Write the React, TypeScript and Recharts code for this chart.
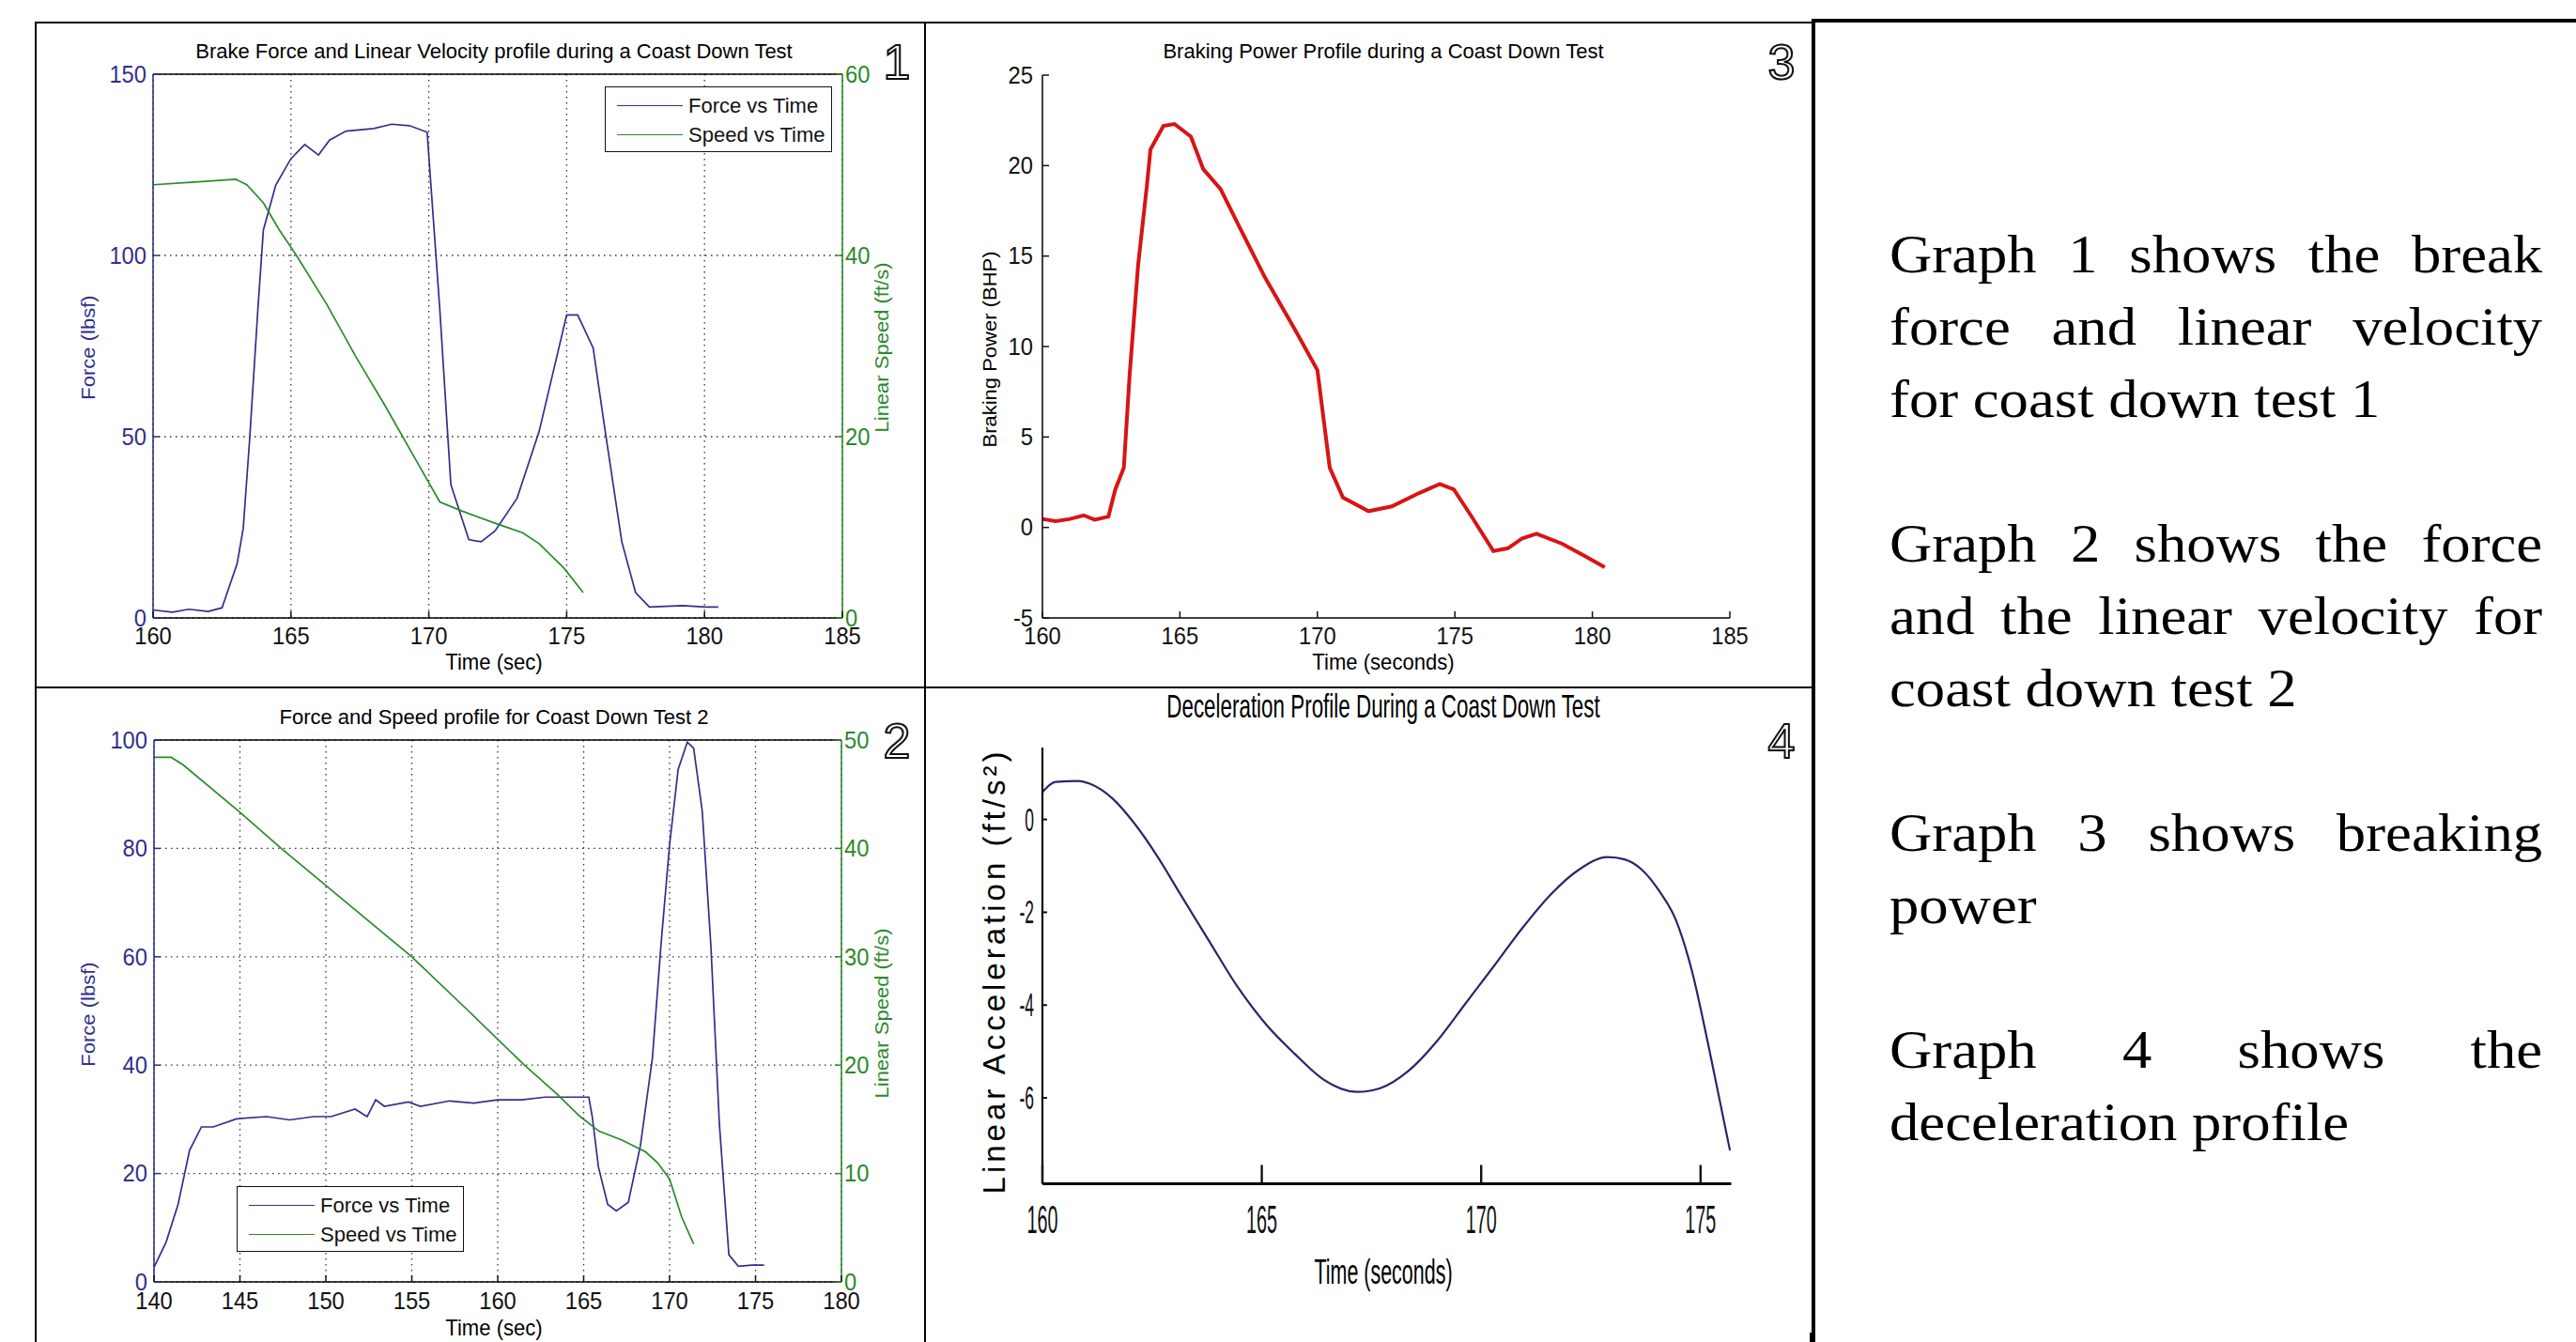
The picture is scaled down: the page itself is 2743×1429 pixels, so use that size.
import React from "react";
import { CartesianGrid, Legend, Line, LineChart, ReferenceLine, XAxis, YAxis } from "recharts";

// ---- graph 1: coast down test 1 ----
const t1Force = [160, 160.7, 161.3, 162, 162.5, 163.05, 163.27, 163.5, 163.8, 164.0, 164.45, 165, 165.5, 166.0, 166.4, 167.0, 168.0, 168.65, 169.3, 169.94, 170.4, 170.8, 171.45, 171.9, 172.4, 173.2, 174.0, 175.0, 175.4, 175.96, 176.4, 177.0, 177.5, 178.0, 179.2, 180.05, 180.5];
const force1 = [2.2, 1.6, 2.4, 1.8, 2.8, 15, 24.7, 49, 85, 107, 119.4, 126.7, 130.6, 127.7, 131.8, 134.3, 135, 136.2, 135.8, 134, 85, 36.8, 21.6, 21, 24, 33, 51.4, 83.6, 83.6, 74.5, 51.4, 21, 7, 3, 3.4, 3, 3];
const t1Speed = [160, 161.5, 163, 163.4, 164.0, 164.56, 165.2, 166.3, 167.36, 168.4, 169.5, 170.4, 171.2, 172.5, 173.4, 174.0, 174.9, 175.6];
const speed1 = [47.8, 48.1, 48.4, 47.8, 45.8, 42.9, 40, 34.6, 28.8, 23.5, 17.6, 12.8, 11.8, 10.35, 9.4, 8.2, 5.5, 2.8];
const x1Ticks = [160, 165, 170, 175, 180, 185];
const f1Ticks = [0, 50, 100, 150];
const s1Ticks = [0, 20, 40, 60];

// ---- graph 2: coast down test 2 ----
const t2Force = [140, 140.7, 141.4, 142.07, 142.76, 143.45, 144.8, 146.55, 147.9, 149.3, 150.3, 151.7, 152.4, 152.9, 153.4, 154.8, 155.5, 157.2, 158.6, 160, 161.4, 162.76, 164.1, 165.3, 165.5, 165.86, 166.4, 166.9, 167.6, 168.3, 169, 169.5, 170, 170.5, 171.03, 171.4, 171.9, 172.4, 172.9, 173.45, 174, 174.8, 175.5];
const force2 = [2.7, 7.3, 14.3, 24.3, 28.6, 28.6, 30.1, 30.5, 29.9, 30.5, 30.5, 31.9, 30.5, 33.6, 32.4, 33.2, 32.4, 33.4, 33, 33.6, 33.6, 34.1, 34.1, 34.1, 30.5, 21.2, 14.3, 13.1, 14.7, 25.1, 41.3, 62.2, 80.7, 94.6, 99.6, 98.5, 86.9, 62.2, 29, 5, 2.9, 3.1, 3.1];
const t2Speed = [140, 141, 141.7, 144.8, 147.4, 151.2, 155, 158.3, 161.55, 163.4, 164.8, 165.9, 167.2, 168.6, 169.3, 170, 170.7, 171.4];
const speed2 = [48.4, 48.4, 47.7, 43.6, 40, 35, 30, 25, 20, 17.4, 15.25, 13.9, 13.1, 12, 11, 9.5, 6, 3.5];
const x2Ticks = [140, 145, 150, 155, 160, 165, 170, 175, 180];
const f2Ticks = [0, 20, 40, 60, 80, 100];
const s2Ticks = [0, 10, 20, 30, 40, 50];

// ---- graph 3: braking power ----
const t3 = [160, 160.48, 161, 161.5, 161.9, 162.4, 162.65, 162.96, 163.17, 163.48, 163.8, 163.93, 164.4, 164.8, 165.4, 165.85, 166.48, 167.3, 168.1, 169.2, 170, 170.45, 170.93, 171.86, 172.7, 173.7, 174.45, 174.96, 175.58, 176.4, 176.93, 177.45, 177.97, 178.9, 179.72, 180.45];
const power3 = [0.47, 0.35, 0.47, 0.67, 0.43, 0.6, 2.1, 3.3, 8.4, 14.5, 18.9, 20.9, 22.2, 22.3, 21.6, 19.8, 18.7, 16.2, 13.8, 10.9, 8.7, 3.3, 1.65, 0.9, 1.16, 1.9, 2.4, 2.1, 0.67, -1.3, -1.15, -0.6, -0.35, -0.9, -1.57, -2.2];
const p3Ticks = [-5, 0, 5, 10, 15, 20, 25];

// ---- graph 4: deceleration ----
const t4 = [160, 160.3, 160.82, 161.08, 161.6, 162.1, 162.63, 163.15, 163.8, 164.45, 165.1, 165.75, 166.4, 167.17, 167.7, 168.34, 168.99, 169.64, 170.29, 170.93, 171.58, 172.23, 172.88, 173.27, 173.66, 174.05, 174.44, 174.8, 175.2, 175.67];
const accel4 = [0.59, 0.81, 0.83, 0.77, 0.45, -0.09, -0.81, -1.62, -2.62, -3.61, -4.42, -5.05, -5.6, -5.87, -5.79, -5.42, -4.78, -3.97, -3.16, -2.35, -1.62, -1.08, -0.81, -0.86, -1.08, -1.53, -2.17, -3.25, -4.96, -7.13];
const x4Ticks = [160, 165, 170, 175];
const a4Ticks = [0, -2, -4, -6];

const legendNames = ["Force vs Time", "Speed vs Time"];

const notes = [
  ["Graph 1 shows the break", "force and linear velocity", "for coast down test 1"],
  ["Graph 2 shows the force", "and the linear velocity for", "coast down test 2"],
  ["Graph 3 shows breaking", "power"],
  ["Graph 4 shows the", "deceleration profile"],
];

const SANS = "'Liberation Sans', Arial, Helvetica, sans-serif";
const SERIF = "'Liberation Serif', 'Times New Roman', serif";
const NAVY = "#30308a";
const GREEN = "#2a8a2a";
const RED = "#d81414";
const INK = "#27276a";

const zip = (t: number[], v: number[]) => t.map((x, i) => ({ t: x, v: v[i] }));

type TickOpts = { side: "left" | "right" | "bottom"; gap: number; len: number; color: string; line?: string; size: number; sx: number; lw?: number };

function makeTick(o: TickOpts) {
  return (p: any) => {
    const { x, y, payload } = p;
    let mark: any = null;
    let anchor = "middle";
    if (o.side === "left") {
      anchor = "end";
      mark = <line x1={x + o.gap} x2={x + o.gap + o.len} y1={y} y2={y} />;
    } else if (o.side === "right") {
      anchor = "start";
      mark = <line x1={x - o.gap} x2={x - o.gap - o.len} y1={y} y2={y} />;
    } else {
      mark = <line x1={x} x2={x} y1={y - o.gap} y2={y - o.gap - o.len} />;
    }
    return (
      <g>
        {o.len > 0 && <g stroke={o.line ?? o.color} strokeWidth={o.lw ?? 1.5}>{mark}</g>}
        <text transform={`translate(${x},${y}) scale(${o.sx},1)`} textAnchor={anchor} dominantBaseline="central" fontSize={o.size} fontFamily={SANS} fill={o.color}>
          {payload.value}
        </text>
      </g>
    );
  };
}

function Txt(props: { x: number; y: number; text: React.ReactNode; size: number; color?: string; rot?: number; sx?: number; sy?: number; ls?: number }) {
  const { x, y, text, size, color = "#000", rot = 0, sx = 1, sy = 1, ls = 0 } = props;
  return (
    <div
      style={{
        position: "absolute",
        left: x,
        top: y,
        transform: `translate(-50%,-50%) rotate(${rot}deg) scale(${sx},${sy})`,
        fontFamily: SANS,
        fontSize: size,
        color,
        whiteSpace: "nowrap",
        lineHeight: 1,
        letterSpacing: ls,
      }}
    >
      {text}
    </div>
  );
}

function Badge({ x, y, n }: { x: number; y: number; n: string }) {
  return (
    <div
      style={{
        position: "absolute",
        left: x,
        top: y,
        transform: "translate(-50%,-50%)",
        fontFamily: SANS,
        fontSize: 52,
        lineHeight: 1,
        color: "#fff",
        WebkitTextStroke: "2px #111",
        textShadow: "0 0 3px #aaa",
      }}
    >
      {n}
    </div>
  );
}

function LegendBox() {
  const colors = [NAVY, GREEN];
  return (
    <div style={{ width: 242, height: 70, border: "1.5px solid #111", background: "#fff", paddingTop: 4, boxSizing: "border-box" }}>
      {legendNames.map((n, i) => (
        <div key={n} style={{ display: "flex", alignItems: "center", height: 31 }}>
          <div style={{ width: 70, height: 0, borderTop: `1.6px solid ${colors[i]}`, marginLeft: 12, marginRight: 6 }} />
          <span style={{ fontFamily: SANS, fontSize: 22, color: "#111" }}>{n}</span>
        </div>
      ))}
    </div>
  );
}

function Rule({ x, y, w, h }: { x: number; y: number; w: number; h: number }) {
  return <div style={{ position: "absolute", left: x, top: y, width: w, height: h, background: "#000" }} />;
}

const GRID = { stroke: "#333", strokeDasharray: "1.5 4.5", strokeWidth: 1.3 };
const TS = 25;
const TSX = 0.95;

function DualChart(props: {
  width: number; height: number; top: number; left: number; right: number; xh: number;
  xDomain: [number, number]; xTicks: number[]; fDomain: [number, number]; fTicks: number[]; sDomain: [number, number]; sTicks: number[];
  force: { t: number; v: number }[]; speed: { t: number; v: number }[]; legendAt: { left: number; top: number }; xGap: number;
}) {
  const p = props;
  return (
    <LineChart width={p.width} height={p.height} margin={{ top: p.top, right: 0, bottom: 0, left: 0 }}>
      <CartesianGrid yAxisId="l" {...GRID} />
      <XAxis
        dataKey="t" type="number" domain={p.xDomain} ticks={p.xTicks} interval={0} height={p.xh}
        tickSize={0} tickMargin={p.xGap} tickLine={false} axisLine={{ stroke: "#000", strokeWidth: 1.5 }}
        tick={makeTick({ side: "bottom", gap: p.xGap, len: 7, color: "#111", size: TS, sx: TSX })}
      />
      <YAxis
        yAxisId="l" type="number" domain={p.fDomain} ticks={p.fTicks} interval={0} width={p.left}
        tickSize={0} tickMargin={7} tickLine={false} axisLine={{ stroke: NAVY, strokeWidth: 1.6 }}
        tick={makeTick({ side: "left", gap: 7, len: 7, color: NAVY, size: TS, sx: TSX })}
      />
      <YAxis
        yAxisId="r" orientation="right" type="number" domain={p.sDomain} ticks={p.sTicks} interval={0} width={p.right}
        tickSize={0} tickMargin={3} tickLine={false} axisLine={{ stroke: GREEN, strokeWidth: 1.6 }}
        tick={makeTick({ side: "right", gap: 3, len: 7, color: GREEN, size: TS, sx: TSX })}
      />
      <ReferenceLine yAxisId="l" y={p.fDomain[1]} stroke="#000" strokeWidth={1.5} />
      <Line yAxisId="l" data={p.force} dataKey="v" name={legendNames[0]} type="linear" stroke={NAVY} strokeWidth={1.7} dot={false} isAnimationActive={false} />
      <Line yAxisId="r" data={p.speed} dataKey="v" name={legendNames[1]} type="linear" stroke={GREEN} strokeWidth={1.7} dot={false} isAnimationActive={false} />
      <Legend
        layout="horizontal" verticalAlign="middle" align="center"
        wrapperStyle={{ left: p.legendAt.left, top: p.legendAt.top, width: 242, height: 70 }}
        content={() => <LegendBox />}
      />
    </LineChart>
  );
}

export default function App() {
  const lineTop = (i: number) => 290 + 77 * i - 57.7;
  let row = 0;
  const noteLines: { text: string; top: number; last: boolean }[] = [];
  notes.forEach((para) => {
    para.forEach((text, j) => {
      noteLines.push({ text, top: lineTop(row), last: j === para.length - 1 });
      row += 1;
    });
    row += 1;
  });

  return (
    <div style={{ position: "absolute", left: 0, top: 0, width: 2743, height: 1429, background: "#fff", overflow: "hidden" }}>
      {/* graph 1 */}
      <div style={{ position: "absolute", left: 38, top: 24 }}>
        <DualChart
          width={947} height={709} top={55} left={125} right={88} xh={75} xGap={19}
          xDomain={[160, 185]} xTicks={x1Ticks} fDomain={[0, 150]} fTicks={f1Ticks} sDomain={[0, 60]} sTicks={s1Ticks}
          force={zip(t1Force, force1)} speed={zip(t1Speed, speed1)} legendAt={{ left: 606, top: 68 }}
        />
      </div>

      {/* graph 2 */}
      <div style={{ position: "absolute", left: 38, top: 733 }}>
        <DualChart
          width={947} height={696} top={55} left={126} right={89} xh={64} xGap={20}
          xDomain={[140, 180]} xTicks={x2Ticks} fDomain={[0, 100]} fTicks={f2Ticks} sDomain={[0, 50]} sTicks={s2Ticks}
          force={zip(t2Force, force2)} speed={zip(t2Speed, speed2)} legendAt={{ left: 214, top: 530 }}
        />
      </div>

      {/* graph 3 */}
      <div style={{ position: "absolute", left: 985, top: 24 }}>
        <LineChart width={946} height={709} margin={{ top: 56, right: 89, bottom: 0, left: 0 }}>
          <XAxis
            dataKey="t" type="number" domain={[160, 185]} ticks={x1Ticks} interval={0} height={75}
            tickSize={0} tickMargin={19} tickLine={false} axisLine={{ stroke: "#000", strokeWidth: 1.5 }}
            tick={makeTick({ side: "bottom", gap: 19, len: 7, color: "#111", size: TS, sx: TSX })}
          />
          <YAxis
            type="number" domain={[-5, 25]} ticks={p3Ticks} interval={0} width={125}
            tickSize={0} tickMargin={10} tickLine={false} axisLine={{ stroke: "#000", strokeWidth: 1.5 }}
            tick={makeTick({ side: "left", gap: 10, len: 7, color: "#111", size: TS, sx: TSX })}
          />
          <Line data={zip(t3, power3)} dataKey="v" type="linear" stroke={RED} strokeWidth={4} dot={false} isAnimationActive={false} />
        </LineChart>
      </div>

      {/* graph 4 */}
      <div style={{ position: "absolute", left: 985, top: 733 }}>
        <LineChart width={946} height={696} margin={{ top: 63, right: 87.5, bottom: 0, left: 0 }}>
          <XAxis
            dataKey="t" type="number" domain={[160, 175.7]} ticks={x4Ticks} interval={0} height={168.5}
            tickSize={0} tickMargin={38} tickLine={false} axisLine={{ stroke: "#000", strokeWidth: 3.2 }}
            tick={makeTick({ side: "bottom", gap: 38, len: 20, lw: 2.4, color: "#111", size: 43, sx: 0.46 })}
          />
          <YAxis
            type="number" domain={[-7.85, 1.55]} ticks={a4Ticks} interval={0} width={125} allowDataOverflow
            tickSize={0} tickMargin={9} tickLine={false} axisLine={{ stroke: "#000", strokeWidth: 2.2 }}
            tick={makeTick({ side: "left", gap: 9, len: 5, lw: 2, color: "#111", size: 35, sx: 0.5 })}
          />
          <Line data={zip(t4, accel4)} dataKey="v" type="monotone" stroke={INK} strokeWidth={2.2} dot={false} isAnimationActive={false} />
        </LineChart>
      </div>

      {/* titles and axis labels */}
      <Txt x={526} y={55} size={22} sx={1} text="Brake Force and Linear Velocity profile during a  Coast Down Test" />
      <Txt x={95} y={370} size={22} rot={-90} sy={0.92} color={NAVY} text="Force (lbsf)" />
      <Txt x={940} y={370} size={22} rot={-90} sy={0.92} color={GREEN} text="Linear Speed (ft/s)" />
      <Txt x={526} y={705} size={24} sx={0.92} text="Time (sec)" />

      <Txt x={526} y={764} size={22} sx={1} text="Force and Speed profile for Coast Down Test 2" />
      <Txt x={95} y={1080} size={22} rot={-90} sy={0.92} color={NAVY} text="Force (lbsf)" />
      <Txt x={940} y={1079} size={22} rot={-90} sy={0.92} color={GREEN} text="Linear Speed (ft/s)" />
      <Txt x={526} y={1414} size={24} sx={0.92} text="Time (sec)" />

      <Txt x={1473} y={55} size={22} sx={1} text="Braking Power Profile during a Coast Down Test" />
      <Txt x={1055} y={372} size={22} rot={-90} sy={0.92} text="Braking Power (BHP)" />
      <Txt x={1473} y={705} size={24} sx={0.92} text="Time (seconds)" />

      <Txt x={1473} y={751} size={35} sx={0.64} text="Deceleration Profile During a Coast Down Test" />
      <Txt x={1058} y={1034} size={33} rot={-90} ls={4} text="Linear Acceleration (ft/s²)" />
      <Txt x={1473} y={1354} size={37} sx={0.58} text="Time (seconds)" />

      <Badge x={955} y={66} n="1" />
      <Badge x={955} y={789} n="2" />
      <Badge x={1897} y={66} n="3" />
      <Badge x={1897} y={789} n="4" />

      {/* panel frame */}
      <Rule x={37} y={23} w={2} h={1406} />
      <Rule x={37} y={23} w={1894} h={2} />
      <Rule x={984} y={23} w={2} h={1406} />
      <Rule x={37} y={731} w={1894} h={2} />
      <Rule x={1929} y={20} w={4} h={1409} />
      <Rule x={1929} y={20} w={814} h={4} />
      <Rule x={1927} y={1419} w={6} h={10} />

      {/* notes */}
      {noteLines.map((l) => (
        <div
          key={l.text}
          style={{
            position: "absolute",
            left: 2012,
            top: l.top,
            width: 632,
            height: 77,
            lineHeight: "77px",
            fontFamily: SERIF,
            fontSize: 57,
            color: "#000",
            whiteSpace: "nowrap",
            textAlign: "justify",
            textAlignLast: l.last ? "left" : "justify",
            transform: "scale(1.1,1)",
            transformOrigin: "left top",
          }}
        >
          {l.text}
        </div>
      ))}
    </div>
  );
}
